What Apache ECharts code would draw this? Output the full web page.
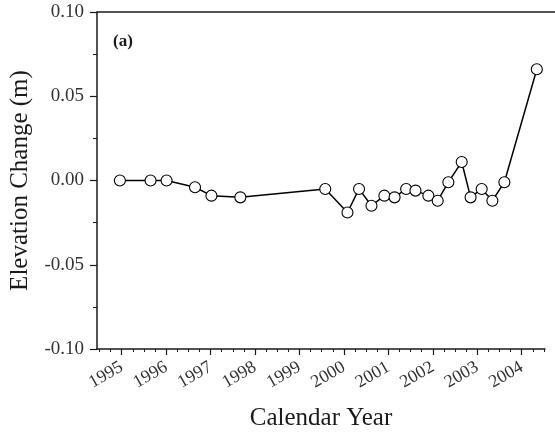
<!DOCTYPE html>
<html>
<head>
<meta charset="utf-8">
<script src="https://cdn.jsdelivr.net/npm/echarts@6/dist/echarts.min.js"></script>
<style>html,body{margin:0;padding:0;background:#fff}#c{width:555px;height:438px}</style>
</head>
<body>
<div id="c"></div>
<script>
// Decimal calendar years of each survey
const surveyYears = [1994.96, 1995.65, 1996.01, 1996.65, 1997.02, 1997.67, 1999.58, 2000.08, 2000.34, 2000.62,
  2000.91, 2001.14, 2001.40, 2001.61, 2001.90, 2002.11, 2002.35, 2002.65, 2002.85, 2003.10,
  2003.34, 2003.61, 2004.34];
// Elevation change (m)
const elevationChange = [0.000, 0.000, 0.000, -0.004, -0.009, -0.010, -0.005, -0.019, -0.005, -0.015,
  -0.009, -0.010, -0.005, -0.006, -0.009, -0.012, -0.001, 0.011, -0.010, -0.005,
  -0.012, -0.001, 0.066];
const yearTicks = [1995, 1996, 1997, 1998, 1999, 2000, 2001, 2002, 2003, 2004];
const panelLabel = '(a)';
const xTitle = 'Calendar Year';
const yTitle = 'Elevation Change (m)';

const xMin = 1994.445, xMax = 2004.524;
const quarterTicks = [];
for (let y = 1994.5; y <= 2004.5 + 1e-9; y += 0.25) quarterTicks.push(+y.toFixed(2));

const points = surveyYears.map((x, i) => [x, elevationChange[i]]);
const serif = 'Liberation Serif';
const ink = '#1a1a1a';

const chart = echarts.init(document.getElementById('c'), null, {renderer: 'canvas'});
chart.setOption({
  animation: false,
  backgroundColor: '#fff',
  title: {
    text: panelLabel, left: 108, top: 28,
    textStyle: {fontFamily: serif, fontSize: 17, fontWeight: 'bold', color: ink}
  },
  grid: [
    {left: 97, right: 10, top: 12, bottom: 89},
    {left: 97, right: 0, top: 12, bottom: 89}
  ],
  xAxis: [
    {
      type: 'value', gridIndex: 0, min: xMin, max: xMax, position: 'bottom',
      name: xTitle, nameLocation: 'middle', nameGap: 57,
      nameTextStyle: {fontFamily: serif, fontSize: 25, color: ink},
      axisLine: {show: true, onZero: false, lineStyle: {color: ink, width: 1.5}},
      axisTick: {show: true, customValues: yearTicks, length: 6, lineStyle: {color: ink, width: 1.2}},
      axisLabel: {show: true, customValues: yearTicks, rotate: 30, margin: 17,
        fontFamily: serif, fontSize: 18, color: '#333', formatter: v => String(Math.round(v))},
      splitLine: {show: false}
    },
    {
      type: 'value', gridIndex: 0, min: xMin, max: xMax, position: 'bottom',
      axisLine: {show: false, onZero: false},
      axisTick: {show: true, customValues: quarterTicks, length: 3, lineStyle: {color: ink, width: 1}},
      axisLabel: {show: false},
      splitLine: {show: false}
    },
    {
      type: 'value', gridIndex: 1, min: 0, max: 1, position: 'top',
      axisLine: {show: true, onZero: false, lineStyle: {color: ink, width: 1.5}},
      axisTick: {show: false}, axisLabel: {show: false}, splitLine: {show: false}
    }
  ],
  yAxis: [
    {
      type: 'value', gridIndex: 0, min: -0.1, max: 0.1, interval: 0.05,
      name: yTitle, nameLocation: 'middle', nameGap: 64,
      nameTextStyle: {fontFamily: serif, fontSize: 25, color: ink},
      axisLine: {show: true, onZero: false, lineStyle: {color: ink, width: 1.5}},
      axisTick: {show: true, length: 7, lineStyle: {color: ink, width: 1.2}},
      minorTick: {show: true, splitNumber: 2, length: 4, lineStyle: {color: ink, width: 1}},
      axisLabel: {fontFamily: serif, fontSize: 19, color: '#333', margin: 13,
        formatter: v => v.toFixed(2)},
      splitLine: {show: false}
    },
    {
      type: 'value', gridIndex: 1, min: 0, max: 1, show: false
    }
  ],
  series: [{
    type: 'line', xAxisIndex: 0, yAxisIndex: 0, data: points,
    symbol: 'circle', symbolSize: 11, showAllSymbol: true,
    lineStyle: {color: '#000', width: 1.5},
    itemStyle: {color: '#fff', borderColor: '#000', borderWidth: 1.1},
    z: 5
  }]
});
</script>
</body>
</html>
